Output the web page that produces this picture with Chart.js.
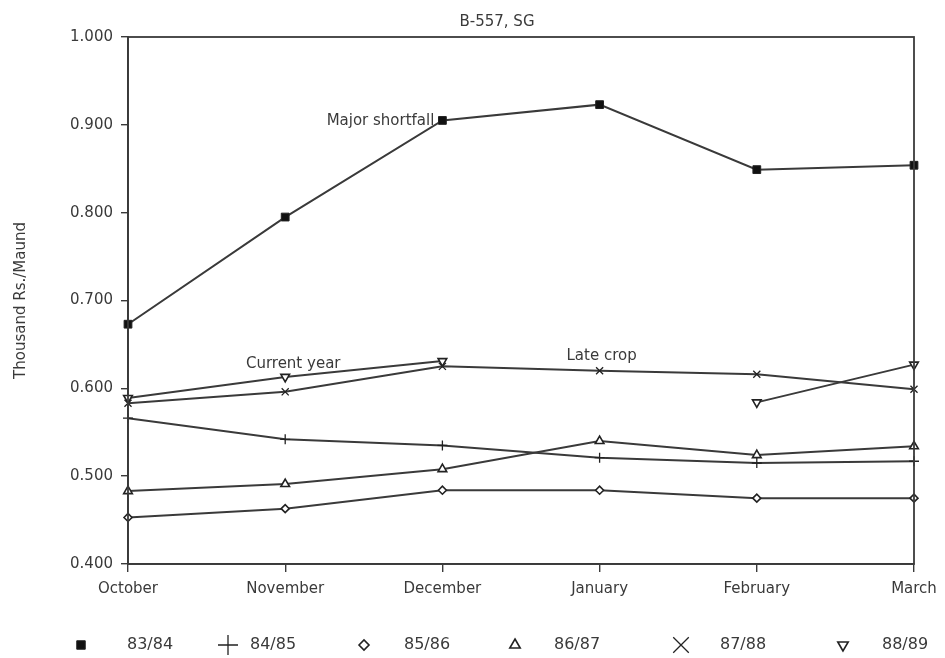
<!DOCTYPE html>
<html>
<head>
<meta charset="utf-8">
<script src="https://cdn.jsdelivr.net/npm/chart.js@4/dist/chart.umd.min.js"></script>
<style>
html,body{margin:0;padding:0;background:#fff;}
#wrap{width:945px;height:658px;}
</style>
</head>
<body>
<div id="wrap"><canvas id="c" width="945" height="658"></canvas></div>
<script>
const months = ['October','November','December','January','February','March'];
const s8384 = [0.673, 0.795, 0.905, 0.923, 0.849, 0.854];
const s8485 = [0.566, 0.542, 0.535, 0.521, 0.515, 0.517];
const s8586 = [0.453, 0.463, 0.484, 0.484, 0.475, 0.475];
const s8687 = [0.483, 0.491, 0.508, 0.540, 0.524, 0.534];
const s8788 = [0.583, 0.596, 0.625, 0.620, 0.616, 0.599];
const s8889 = [0.589, 0.613, 0.631, null, 0.584, 0.627];
const seriesNames = ['83/84','84/85','85/86','86/87','87/88','88/89'];
const yTicks = [0.4, 0.5, 0.6, 0.7, 0.8, 0.9, 1.0];
const subtitle = 'B-557, SG';
const yTitle = 'Thousand Rs./Maund';
const notes = ['Major shortfall','Current year','Late crop'];

const ink = '#3a3a3a';
const FONT = '"DejaVu Sans", sans-serif';

const styles = [
  {pointStyle:'rect', radius:5.5, bg:'#111', bw:1, rot:0, lr:6},
  {pointStyle:'cross', radius:5, bg:'#fff', bw:1.3, rot:0, lr:10},
  {pointStyle:'rectRot', radius:4, bg:'#fff', bw:1.6, rot:0, lr:5},
  {pointStyle:'triangle', radius:5, bg:'#fff', bw:1.6, rot:0, lr:6},
  {pointStyle:'crossRot', radius:5, bg:'#fff', bw:1.3, rot:0, lr:11},
  {pointStyle:'triangle', radius:5, bg:'#fff', bw:1.6, rot:180, lr:6}
];
const allData = [s8384, s8485, s8586, s8687, s8788, s8889];

const datasets = allData.map((d,i)=>({
  label: seriesNames[i],
  data: d,
  borderColor: ink,
  borderWidth: 2,
  pointStyle: styles[i].pointStyle,
  pointRadius: styles[i].radius,
  pointRotation: styles[i].rot,
  pointBackgroundColor: styles[i].bg,
  pointBorderColor: '#222',
  pointBorderWidth: styles[i].bw,
  tension: 0,
  spanGaps: false,
  fill: false
}));

const decor = {
  id:'decor',
  afterDraw(chart){
    const {ctx, chartArea:a, scales} = chart;
    const x = scales.x, y = scales.y;
    ctx.save();
    ctx.strokeStyle = ink; ctx.lineWidth = 1.8;
    ctx.strokeRect(a.left, a.top, a.right-a.left, a.bottom-a.top);
    ctx.fillStyle = ink;
    ctx.font = '15px ' + FONT;
    ctx.textAlign = 'center'; ctx.textBaseline = 'middle';
    ctx.fillText(subtitle, 497, 22);
    ctx.font = '15px ' + FONT;
    ctx.textAlign = 'right';
    ctx.fillText(notes[0], x.getPixelForValue(2) - 8, y.getPixelForValue(0.904));
    ctx.textAlign = 'center';
    ctx.fillText(notes[1], x.getPixelForValue(1) + 8, y.getPixelForValue(0.628));
    ctx.fillText(notes[2], x.getPixelForValue(3) + 2, y.getPixelForValue(0.637));
    const mk = [81, 228, 364, 515, 681, 843];
    const tx = [127, 250, 404, 554, 720, 882];
    const ly = 645;
    ctx.font = '16px ' + FONT;
    ctx.textAlign = 'left';
    chart.data.datasets.forEach((ds,i)=>{
      ctx.strokeStyle = '#222'; ctx.fillStyle = styles[i].bg;
      ctx.lineWidth = styles[i].bw;
      Chart.helpers.drawPoint(ctx, {pointStyle: ds.pointStyle, rotation: styles[i].rot, radius: styles[i].lr, borderWidth: styles[i].bw}, mk[i], ly);
      ctx.fillStyle = ink;
      ctx.fillText(ds.label, tx[i], ly);
    });
    ctx.restore();
  }
};

new Chart(document.getElementById('c'), {
  type:'line',
  data:{labels: months, datasets},
  options:{
    responsive:false,
    animation:false,
    layout:{padding:{left:0, top:37, right:31, bottom:54}},
    plugins:{legend:{display:false}, title:{display:false}, tooltip:{enabled:false}},
    scales:{
      x:{
        offset:false,
        grid:{display:true, drawOnChartArea:false, drawTicks:true, tickLength:8, color:ink, offset:false, lineWidth:1.4},
        border:{display:true, color:ink, width:1.8},
        ticks:{color:ink, font:{family:FONT, size:15}, padding:8, maxRotation:0, autoSkip:false},
        afterFit(s){ s.height = 40; }
      },
      y:{
        min:0.4, max:1.0,
        afterBuildTicks(s){ s.ticks = yTicks.map(v=>({value:v})); },
        grid:{display:true, drawOnChartArea:false, drawTicks:true, tickLength:7, color:ink, lineWidth:1.4},
        border:{display:true, color:ink, width:1.8},
        ticks:{color:ink, font:{family:FONT, size:15}, padding:8, callback:(v)=>Number(v).toFixed(3)},
        title:{display:true, text:yTitle, color:ink, font:{family:FONT, size:15}, padding:{top:12,bottom:8}},
        afterFit(s){ s.width = 128; }
      }
    }
  },
  plugins:[decor]
});
</script>
</body>
</html>
